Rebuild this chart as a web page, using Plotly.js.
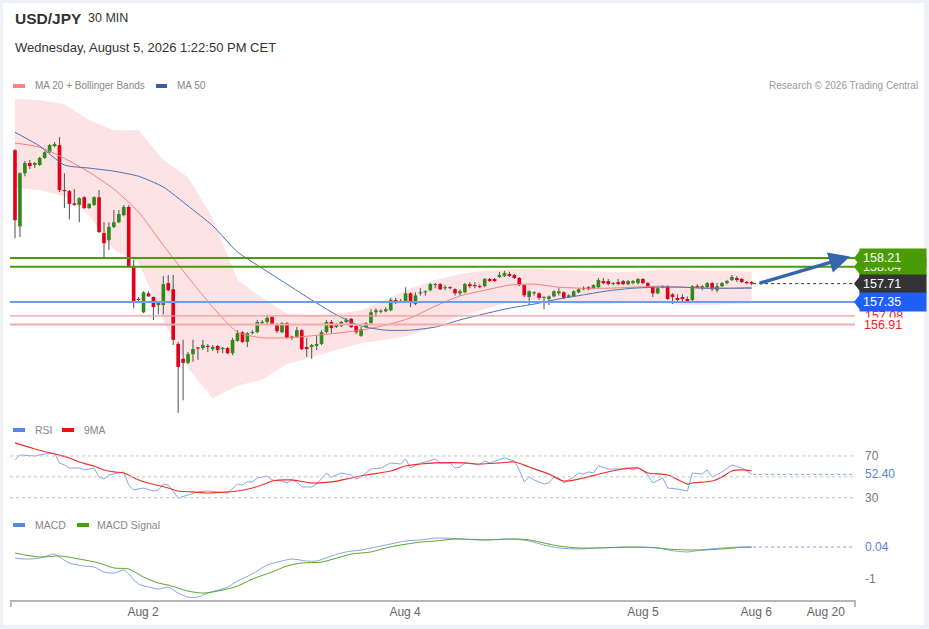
<!DOCTYPE html>
<html><head><meta charset="utf-8">
<script src="https://cdn.plot.ly/plotly-3.0.1.min.js"></script>
<style>
html,body{margin:0;padding:0;background:#eef1f5;overflow:hidden;}
#card{position:absolute;left:3px;top:3px;width:921px;height:622px;background:#fff;}
#chart{position:absolute;left:0;top:0;width:929px;height:629px;}
</style></head><body><div id="card"></div><div id="chart"></div>
<script>
// ---------- DATA ----------
const opens  = [160.32,158.83,159.87,160.07,160.03,160.03,160.17,160.28,160.40,160.42,159.54,159.52,159.28,159.25,159.40,159.19,159.25,159.40,158.70,158.56,158.82,158.91,159.05,159.21,158.03,157.41,157.15,157.52,157.45,157.29,157.29,157.72,157.60,156.53,156.24,156.16,156.33,156.45,156.45,156.49,156.43,156.49,156.43,156.45,156.35,156.59,156.76,156.57,156.74,156.76,156.94,156.96,157.06,156.92,156.76,156.94,156.67,156.67,156.80,156.47,156.47,156.49,156.53,156.76,156.96,156.86,156.88,156.96,157.02,156.88,156.69,156.86,156.94,157.15,157.16,157.17,157.19,157.39,157.35,157.35,157.52,157.31,157.52,157.54,157.58,157.68,157.70,157.62,157.64,157.60,157.52,157.54,157.70,157.68,157.66,157.66,157.80,157.80,157.84,157.86,157.90,157.88,157.82,157.68,157.45,157.52,157.52,157.43,157.41,157.46,157.52,157.54,157.45,157.46,157.54,157.60,157.64,157.62,157.64,157.76,157.76,157.70,157.74,157.76,157.70,157.72,157.72,157.80,157.72,157.64,157.52,157.64,157.66,157.50,157.43,157.45,157.41,157.39,157.66,157.62,157.64,157.72,157.58,157.66,157.72,157.78,157.82,157.80,157.74,157.74];
const highs  = [160.34,159.89,160.11,160.13,160.09,160.19,160.30,160.44,160.48,160.58,159.87,159.54,159.56,159.40,159.42,159.28,159.42,159.54,158.91,158.91,159.15,159.15,159.25,159.25,158.17,157.45,157.56,157.56,157.46,157.37,157.86,157.88,157.88,156.57,156.61,156.37,156.61,156.47,156.61,156.53,156.51,156.51,156.47,156.47,156.65,156.80,156.78,156.76,156.80,157.00,157.00,157.10,157.08,156.94,156.96,156.96,156.69,156.86,156.82,156.65,156.53,156.69,156.80,157.00,157.00,156.94,156.98,157.04,157.04,156.90,156.86,156.96,157.21,157.23,157.21,157.25,157.43,157.43,157.41,157.64,157.54,157.54,157.62,157.58,157.72,157.72,157.72,157.68,157.66,157.62,157.60,157.72,157.74,157.74,157.70,157.82,157.82,157.82,157.94,157.96,157.94,157.90,157.84,157.70,157.58,157.56,157.54,157.46,157.48,157.58,157.62,157.56,157.50,157.58,157.62,157.66,157.66,157.70,157.82,157.82,157.80,157.74,157.80,157.78,157.78,157.78,157.82,157.82,157.74,157.66,157.64,157.68,157.68,157.52,157.50,157.50,157.46,157.68,157.70,157.68,157.74,157.74,157.72,157.74,157.78,157.88,157.86,157.82,157.76,157.76];
const lows   = [158.60,158.62,159.81,159.95,159.97,160.01,160.15,160.26,160.38,159.50,159.19,158.97,159.23,158.91,159.17,159.17,159.23,158.70,158.19,158.37,158.80,158.89,159.03,158.03,157.23,157.37,157.13,157.45,157.00,157.11,157.11,157.56,156.51,155.18,155.43,156.14,156.18,156.22,156.41,156.37,156.39,156.35,156.35,156.33,156.31,156.57,156.55,156.47,156.72,156.74,156.90,156.90,156.90,156.74,156.74,156.63,156.61,156.65,156.41,156.28,156.24,156.41,156.51,156.74,156.74,156.84,156.86,156.94,156.84,156.72,156.67,156.84,156.92,157.06,157.13,157.15,157.17,157.31,157.33,157.33,157.25,157.29,157.48,157.48,157.56,157.62,157.58,157.58,157.60,157.48,157.48,157.52,157.62,157.62,157.62,157.64,157.74,157.74,157.82,157.84,157.84,157.80,157.66,157.45,157.29,157.48,157.39,157.21,157.29,157.45,157.48,157.41,157.43,157.45,157.52,157.58,157.58,157.60,157.62,157.70,157.68,157.68,157.68,157.68,157.68,157.70,157.70,157.70,157.62,157.45,157.50,157.62,157.39,157.31,157.35,157.37,157.33,157.37,157.62,157.58,157.62,157.56,157.54,157.64,157.70,157.76,157.74,157.72,157.70,157.68];
const closes = [158.95,159.87,160.07,160.01,160.07,160.17,160.28,160.42,160.44,159.54,159.52,159.27,159.25,159.38,159.19,159.27,159.40,158.72,158.50,158.82,158.91,159.07,159.21,158.03,157.35,157.39,157.54,157.46,157.25,157.35,157.70,157.58,156.61,156.08,156.16,156.33,156.43,156.44,156.51,156.47,156.47,156.41,156.45,156.35,156.61,156.74,156.57,156.74,156.76,156.96,156.96,157.04,156.92,156.78,156.94,156.65,156.65,156.80,156.43,156.43,156.51,156.53,156.76,156.96,156.84,156.90,156.96,157.00,156.86,156.76,156.82,156.94,157.15,157.19,157.17,157.21,157.39,157.35,157.37,157.52,157.33,157.48,157.54,157.56,157.70,157.70,157.60,157.64,157.62,157.52,157.56,157.70,157.66,157.66,157.64,157.80,157.76,157.76,157.88,157.92,157.86,157.82,157.68,157.48,157.56,157.54,157.43,157.45,157.46,157.56,157.56,157.43,157.48,157.56,157.60,157.62,157.60,157.68,157.78,157.72,157.70,157.72,157.70,157.70,157.76,157.76,157.80,157.72,157.64,157.52,157.62,157.66,157.41,157.45,157.39,157.41,157.37,157.66,157.64,157.66,157.72,157.60,157.66,157.72,157.76,157.84,157.78,157.74,157.72,157.71];

const maIdx   = [0,5,10,15,20,25,30,35,40,45,50,55,60,65,70,75,80,85,90,95,100,105,110,115,120,125,130,135,140,145,149];
const ma20    = [160.46,160.38,160.16,159.89,159.56,159.11,158.46,157.84,157.25,156.76,156.65,156.65,156.69,156.74,156.80,156.90,157.04,157.27,157.47,157.58,157.68,157.70,157.64,157.62,157.62,157.64,157.66,157.64,157.62,157.62,157.64];
const ma50    = [160.67,160.40,160.03,159.97,159.91,159.81,159.60,159.23,158.84,158.33,158.01,157.70,157.39,157.10,156.88,156.80,156.80,156.86,157.00,157.12,157.23,157.31,157.41,157.49,157.57,157.62,157.64,157.64,157.62,157.62,157.62];
const bbUpper = [161.32,161.30,161.22,160.91,160.71,160.71,160.13,159.79,158.99,157.78,157.43,157.13,157.10,157.12,157.19,157.39,157.62,157.78,157.90,157.96,157.99,158.01,157.98,157.96,157.94,157.94,157.98,157.98,157.96,157.96,157.94];
const bbLower = [159.58,159.54,159.42,159.05,158.37,158.13,157.00,156.06,155.47,155.71,155.83,156.14,156.27,156.41,156.55,156.61,156.70,156.88,157.08,157.21,157.35,157.39,157.33,157.31,157.31,157.35,157.33,157.29,157.29,157.31,157.33];

const rsiIdx = [0,1,4,6,8,9,10,11,13,14,16,17,18,19,21,22,23,24,26,28,29,30,31,32,33,35,37,39,41,43,45,46,47,48,49,51,52,54,55,56,57,58,60,61,63,64,66,68,69,70,72,74,76,78,79,80,82,83,85,86,88,89,90,91,94,95,96,99,101,102,103,104,105,107,108,109,110,111,113,114,115,116,117,118,120,122,124,125,126,128,129,131,132,134,136,137,139,140,141,142,143,145,147,148,149];
const rsi    = [66.2,71.0,70.0,71.9,72.9,63.3,61.4,58.5,58.5,56.6,58.5,49.9,47.9,51.8,53.7,54.7,42.2,37.4,39.3,36.4,37.4,43.1,42.2,35.5,29.7,32.6,35.5,36.4,35.5,34.5,43.1,42.2,45.1,45.1,48.9,50.8,47.0,46.0,44.1,47.0,45.1,40.3,40.3,43.1,53.7,49.9,53.7,51.8,47.9,49.9,57.5,58.5,63.3,62.3,67.1,58.5,63.3,64.2,67.1,63.3,63.3,58.5,59.4,63.3,61.4,65.2,63.3,68.1,65.2,56.6,45.1,49.9,47.0,43.1,44.1,49.9,48.9,44.1,49.9,53.7,52.7,54.7,53.7,60.4,57.5,57.5,58.5,56.6,59.4,51.8,44.1,48.9,39.3,38.3,36.4,53.7,52.7,56.6,49.9,52.7,54.7,61.4,58.5,55.6,52.4];
const rsiMaIdx = [0,4,8,11,13,16,18,20,22,25,27,31,33,36,39,43,45,48,51,52,56,60,64,68,71,76,79,82,85,91,94,98,101,104,108,111,115,119,123,126,128,132,136,137,141,143,145,147,149];
const rsiMa    = [82.5,76.7,71.9,68.1,64.2,60.4,56.6,54.7,53.7,47.0,44.1,39.3,36.4,35.5,34.5,35.5,36.4,39.3,44.1,46.0,47.0,44.1,45.1,48.9,51.8,55.6,60.4,62.3,63.3,63.3,62.3,63.3,64.2,59.4,52.7,46.0,48.9,53.7,57.5,58.5,53.7,51.8,43.1,44.1,46.0,49.9,55.6,56.6,55.6];

const macdIdx = [0,2,5,8,9,11,14,16,18,20,22,23,25,28,29,31,33,35,37,39,43,45,48,51,54,56,59,61,64,67,70,73,76,79,82,85,87,90,95,101,104,107,110,114,118,125,130,132,136,139,143,147,149];
const macd    = [-0.32,-0.35,-0.32,-0.19,-0.285,-0.48,-0.575,-0.61,-0.77,-0.805,-0.71,-0.835,-1.16,-1.29,-1.325,-1.26,-1.455,-1.585,-1.585,-1.455,-1.26,-1.065,-0.835,-0.545,-0.415,-0.35,-0.415,-0.415,-0.25,-0.12,-0.055,0.04,0.14,0.235,0.27,0.33,0.33,0.30,0.27,0.30,0.235,0.105,0.01,-0.025,0.01,0.04,0.01,-0.055,-0.12,-0.055,0.01,0.04,0.04];
const signalIdx = [0,5,9,13,17,20,23,26,29,31,35,38,41,45,48,52,55,58,62,65,68,72,75,78,82,85,89,95,101,104,107,110,114,118,125,130,132,136,139,143,147,149];
const signal    = [-0.155,-0.285,-0.25,-0.35,-0.48,-0.64,-0.675,-0.935,-1.13,-1.195,-1.39,-1.455,-1.39,-1.23,-1.0,-0.77,-0.575,-0.48,-0.45,-0.32,-0.19,-0.12,0.01,0.105,0.20,0.235,0.30,0.27,0.30,0.27,0.17,0.07,0.01,0.01,0.04,0.01,-0.025,-0.055,-0.055,-0.025,0.03,0.035];

const levelsGreen = [158.21, 158.04];
const levelBlue   = 157.35;
const levelsRed   = [157.08, 156.91];
const tickVals  = [25.9, 78.9, 127.0, 149.9, 164.0];
const tickTexts = ['Aug 2','Aug 4','Aug 5','Aug 6','Aug 20'];
const arrowFrom = [150.3, 157.71];
const arrowTo   = [168.9, 158.24];

// ---------- BUILD ----------
const FONT = 'Liberation Sans, Arial, sans-serif';
const idx = closes.map((_, i) => i);
const GREEN = '#2f8a1a', RED = '#e3001b';
const px = x => (x - 10) / 845;      // pixel -> paper x
const py = y => (600 - y) / 600;     // pixel -> paper y
const last = closes[closes.length - 1];
const lastRsi = rsi[rsi.length - 1];
const lastMacd = macd[macd.length - 1];

const traces = [
  {type:'bar', x:idx, base:lows, y:highs.map((h,i)=>h-lows[i]), width:0.22,
   marker:{color:'#5c5c5c', line:{width:0}}, xaxis:'x', yaxis:'y', hoverinfo:'skip'},
  {type:'bar', x:idx, base:opens.map((o,i)=>Math.min(o,closes[i])),
   y:opens.map((o,i)=>Math.max(Math.abs(closes[i]-o),0.022)), width:0.74,
   marker:{color:opens.map((o,i)=>closes[i]>=o?GREEN:RED), line:{width:0}}, xaxis:'x', yaxis:'y', hoverinfo:'skip'},
  {type:'scatter', mode:'lines', x:maIdx, y:ma20, line:{color:'#f47f7f', width:1, shape:'spline', smoothing:0.6}, xaxis:'x', yaxis:'y'},
  {type:'scatter', mode:'lines', x:maIdx, y:ma50, line:{color:'#4a6fb3', width:1, shape:'spline', smoothing:0.6}, xaxis:'x', yaxis:'y'},
  {type:'scatter', mode:'lines', x:rsiIdx, y:rsi, line:{color:'#88a6ea', width:1}, xaxis:'x', yaxis:'y2'},
  {type:'scatter', mode:'lines', x:rsiMaIdx, y:rsiMa, line:{color:'#f0302a', width:1.2, shape:'spline', smoothing:0.8}, xaxis:'x', yaxis:'y2'},
  {type:'scatter', mode:'lines', x:macdIdx, y:macd, line:{color:'#86a4ea', width:1, shape:'spline', smoothing:0.8}, xaxis:'x', yaxis:'y3'},
  {type:'scatter', mode:'lines', x:signalIdx, y:signal, line:{color:'#5aa62a', width:1, shape:'spline', smoothing:0.8}, xaxis:'x', yaxis:'y3'}
];

// Bollinger band path built from band arrays
let bandPath = 'M ' + maIdx.map((x,i)=>x+','+bbUpper[i]).join(' L ');
bandPath += ' L ' + maIdx.slice().reverse().map((x,k)=>{const i=maIdx.length-1-k; return x+','+bbLower[i];}).join(' L ') + ' Z';

const shapes = [
  {type:'path', xref:'x', yref:'y', path:bandPath, fillcolor:'#fde3e3', line:{width:0}, layer:'below'},
  {type:'line', xref:'paper', yref:'y', x0:0, x1:1, y0:levelsGreen[0], y1:levelsGreen[0], line:{color:'#4a9c06', width:2}},
  {type:'line', xref:'paper', yref:'y', x0:0, x1:1, y0:levelsGreen[1], y1:levelsGreen[1], line:{color:'#4a9c06', width:2}},
  {type:'line', xref:'paper', yref:'y', x0:0, x1:1, y0:levelBlue, y1:levelBlue, line:{color:'#6d9cf2', width:2}},
  {type:'line', xref:'paper', yref:'y', x0:0, x1:1, y0:levelsRed[0], y1:levelsRed[0], line:{color:'#f29a9a', width:1.2}},
  {type:'line', xref:'paper', yref:'y', x0:0, x1:1, y0:levelsRed[1], y1:levelsRed[1], line:{color:'#f5aaaa', width:2}},
  {type:'line', xref:'x', yref:'y', x0:149.3, x1:169.9, y0:last, y1:last, line:{color:'#333', width:1, dash:'dot'}},
  // RSI guide lines
  ...[70,50,30].map(v=>({type:'line', xref:'paper', yref:'y2', x0:0, x1:1, y0:v, y1:v, line:{color:'#c4c4c4', width:1, dash:'dot'}})),
  {type:'line', xref:'x', yref:'y2', x0:149.3, x1:169.9, y0:lastRsi, y1:lastRsi, line:{color:'#7b9ce6', width:1, dash:'dot'}},
  {type:'line', xref:'x', yref:'y3', x0:149.3, x1:169.9, y0:lastMacd, y1:lastMacd, line:{color:'#7b9ce6', width:1, dash:'dot'}},
  // axis end ticks
  {type:'line', xref:'paper', yref:'paper', x0:0.001, x1:0.001, y0:0, y1:py(607), line:{color:'#b5b5b5', width:2}},
  {type:'line', xref:'paper', yref:'paper', x0:1, x1:1, y0:0, y1:py(607), line:{color:'#b5b5b5', width:2}},
  // legend swatches
  {type:'rect', xref:'paper', yref:'paper', x0:px(13), x1:px(25), y0:py(84), y1:py(88), fillcolor:'#ff8080', line:{width:0}},
  {type:'rect', xref:'paper', yref:'paper', x0:px(156), x1:px(167), y0:py(84), y1:py(88), fillcolor:'#3a5f9f', line:{width:0}},
  {type:'rect', xref:'paper', yref:'paper', x0:px(13), x1:px(25), y0:py(428), y1:py(432), fillcolor:'#5b86e5', line:{width:0}},
  {type:'rect', xref:'paper', yref:'paper', x0:px(62), x1:px(74), y0:py(428), y1:py(432), fillcolor:'#ee1111', line:{width:0}},
  {type:'rect', xref:'paper', yref:'paper', x0:px(13), x1:px(25), y0:py(523), y1:py(527), fillcolor:'#5b86e5', line:{width:0}},
  {type:'rect', xref:'paper', yref:'paper', x0:px(77), x1:px(89), y0:py(523), y1:py(527), fillcolor:'#4a9c06', line:{width:0}}
];

const H = 0.176; // half tag height in price units
function tagPoint(v, color){
  return {type:'path', xref:'paper', yref:'y', fillcolor:color, line:{width:0},
    path:`M ${px(854)},${v} L ${px(861)},${v+H} L ${px(861)},${v-H} Z`};
}
shapes.push(tagPoint(levelsGreen[1], '#4a9c06'), tagPoint(levelsGreen[0], '#4a9c06'),
            tagPoint(last, '#333333'), tagPoint(levelBlue, '#1f5ff5'));

function tag(v, color, txt){
  return {xref:'paper', yref:'y', x:px(859), y:v, xanchor:'left', yanchor:'middle', text:txt, showarrow:false,
    align:'left', width:60, height:12, borderpad:3, bgcolor:color, font:{family:FONT, size:12.5, color:'#fff'}};
}
function txt(x, y, t, size, color, opts){
  return Object.assign({xref:'paper', yref:'paper', x:px(x), y:py(y), xanchor:'left', yanchor:'middle', text:t,
    showarrow:false, font:{family:FONT, size:size, color:color}}, opts||{});
}

const annotations = [
  txt(13, 18, '<b>USD/JPY</b>', 15.5, '#333'),
  txt(86, 18, '30 MIN', 12.5, '#333'),
  txt(13, 47, 'Wednesday, August 5, 2026 1:22:50 PM CET', 13, '#333'),
  txt(33, 86, 'MA 20 + Bollinger Bands', 10, '#888'),
  txt(175, 86, 'MA 50', 10, '#888'),
  txt(920, 86, 'Research © 2026 Trading Central', 10, '#999', {xanchor:'right'}),
  txt(33, 430, 'RSI', 10.5, '#888'),
  txt(82, 430, '9MA', 10.5, '#888'),
  txt(33, 525, 'MACD', 10.5, '#888'),
  txt(95, 525, 'MACD Signal', 10.5, '#888'),
  tag(levelsGreen[1], '#4a9c06', levelsGreen[1].toFixed(2)),
  tag(levelsGreen[0], '#4a9c06', levelsGreen[0].toFixed(2)),
  tag(last, '#333333', last.toFixed(2)),
  tag(levelBlue, '#1f5ff5', levelBlue.toFixed(2)),
  {xref:'paper', yref:'y', x:px(863), y:levelsRed[0], xanchor:'left', yanchor:'middle', text:levelsRed[0].toFixed(2), showarrow:false, font:{family:FONT, size:12.5, color:'#f21d1d'}},
  {xref:'paper', yref:'y', x:px(863), y:levelsRed[1], xanchor:'left', yanchor:'middle', text:levelsRed[1].toFixed(2), showarrow:false, bgcolor:'#fff', borderpad:0, font:{family:FONT, size:12.5, color:'#f21d1d'}},
  {xref:'paper', yref:'y2', x:px(863), y:70, xanchor:'left', yanchor:'middle', text:'70', showarrow:false, font:{family:FONT, size:12, color:'#777'}},
  {xref:'paper', yref:'y2', x:px(863), y:30, xanchor:'left', yanchor:'middle', text:'30', showarrow:false, font:{family:FONT, size:12, color:'#777'}},
  {xref:'paper', yref:'y2', x:px(863), y:lastRsi, xanchor:'left', yanchor:'middle', text:lastRsi.toFixed(2), showarrow:false, font:{family:FONT, size:12, color:'#5a82e0'}},
  {xref:'paper', yref:'y3', x:px(863), y:lastMacd, xanchor:'left', yanchor:'middle', text:lastMacd.toFixed(2), showarrow:false, font:{family:FONT, size:12, color:'#5a82e0'}},
  {xref:'paper', yref:'y3', x:px(863), y:-1, xanchor:'left', yanchor:'middle', text:'-1', showarrow:false, font:{family:FONT, size:12, color:'#777'}},
  {xref:'x', yref:'y', axref:'x', ayref:'y', x:arrowTo[0], y:arrowTo[1], ax:arrowFrom[0], ay:arrowFrom[1],
   text:'', showarrow:true, arrowhead:2, arrowsize:1.2, arrowwidth:3.5, arrowcolor:'#3566aa'}
];

const layout = {
  width:929, height:629, margin:{l:10, r:74, t:0, b:29},
  paper_bgcolor:'rgba(0,0,0,0)', plot_bgcolor:'rgba(0,0,0,0)',
  showlegend:false, hovermode:false, barmode:'overlay',
  font:{family:FONT, color:'#666'},
  xaxis:{range:[-1.011, 169.9], domain:[0,1], anchor:'y3', showgrid:false, zeroline:false,
         showline:true, linecolor:'#b5b5b5', linewidth:2, ticks:'',
         tickvals:tickVals, ticktext:tickTexts, tickfont:{family:FONT, size:12, color:'#666'}, fixedrange:true},
  yaxis:{domain:[py(415), py(95)], range:[155.14, 161.40], visible:false, fixedrange:true},
  yaxis2:{domain:[py(512), py(425)], range:[16.3, 99.7], visible:false, fixedrange:true},
  yaxis3:{domain:[0, py(530)], range:[-1.68, 0.5925], visible:false, fixedrange:true},
  shapes:shapes, annotations:annotations
};

Plotly.newPlot('chart', traces, layout, {displayModeBar:false, staticPlot:true});
</script></body></html>
